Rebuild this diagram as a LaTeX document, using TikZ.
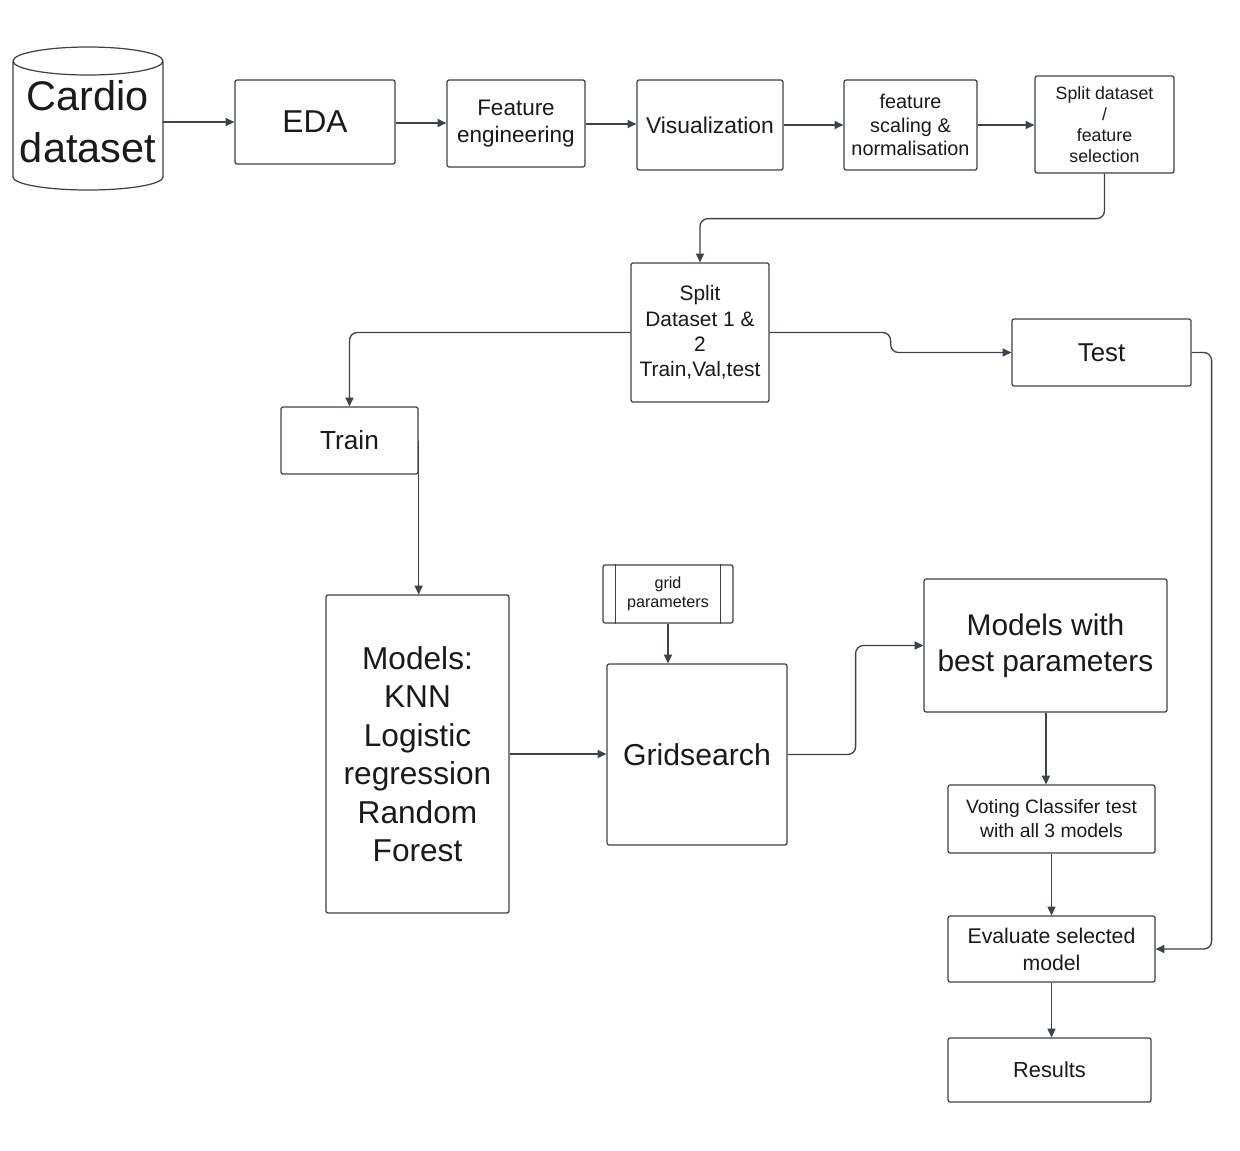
\documentclass[tikz,border=0pt]{standalone}
\usepackage{fontspec}
\setmainfont{Liberation Sans}
\usetikzlibrary{arrows.meta, positioning}
\definecolor{linegray}{HTML}{3D434B}
\definecolor{textdark}{HTML}{1A1A1A}
\newlength{\px}
\setlength{\px}{0.02cm}
\newcommand{\fs}[2]{\fontsize{#1}{#2}\selectfont}

\begin{document}
\begin{tikzpicture}[x=0.02cm, y=-0.02cm,
    box/.style={draw=linegray, line width=0.7pt, rounded corners=1.2pt, fill=white,
        text=textdark, align=center, inner sep=0pt},
    arr/.style={draw=linegray, line width=0.75pt, rounded corners=4.5pt,
        -{Triangle[length=5pt, width=4.6pt]}}]
\useasboundingbox[fill=white] (0,0) rectangle (1240,1150);

% cylinder for the data source
\draw[linegray, line width=0.7pt, fill=white] (13,62) -- (13,177) arc[start angle=180, end angle=0, x radius=75, y radius=13] -- (163,62);
\draw[linegray, line width=0.7pt, fill=white] (88,61) ellipse[x radius=75, y radius=14];
\node[align=center, text=textdark, minimum width=150\px, minimum height=143\px, inner sep=0pt,
    font=\fs{23.6pt}{29.5pt}] (cardio) at (88,122) {Cardio\\dataset};

% first row
\node[box, minimum width=160\px, minimum height=84\px, font=\fs{18pt}{21pt}] (eda) at (315,122) {EDA};
\node[box, minimum width=138\px, minimum height=87\px, font=\fs{12.8pt}{15.3pt}] (feat) at (516,123.5) {Feature\\engineering};
\node[box, minimum width=146\px, minimum height=90\px, font=\fs{13pt}{15pt}] (vis) at (710,125) {Visualization};
\node[box, minimum width=133\px, minimum height=90\px, font=\fs{11.3pt}{13.6pt}] (scale) at (910.5,125) {feature\\scaling \&\\normalisation};
\node[box, minimum width=139\px, minimum height=97\px, font=\fs{10.1pt}{12pt}] (fsel) at (1104.5,124.5) {Split dataset\\/\\feature\\selection};

% split
\node[box, minimum width=138\px, minimum height=139\px, font=\fs{11.9pt}{14.5pt}] (split) at (700,332.5) {Split\\Dataset 1 \&\\2\\Train,Val,test};
\node[box, minimum width=179\px, minimum height=67\px, font=\fs{14.7pt}{17pt}] (test) at (1101.5,352.5) {Test};
\node[box, minimum width=137\px, minimum height=67\px, font=\fs{14.9pt}{17pt}] (train) at (349.5,440.5) {Train};

% models and search
\node[box, minimum width=183\px, minimum height=318\px, font=\fs{18pt}{21.9pt}] (models) at (417.5,754) {Models:\\KNN\\Logistic\\regression\\Random\\Forest};
\node[box, minimum width=130\px, minimum height=58\px, font=\fs{9.2pt}{10.8pt}] (gp) at (668,594) {grid\\parameters};
\draw[linegray, line width=0.7pt] ([xshift=13\px]gp.north west) -- ([xshift=13\px]gp.south west);
\draw[linegray, line width=0.7pt] ([xshift=-13\px]gp.north east) -- ([xshift=-13\px]gp.south east);
\node[box, minimum width=180\px, minimum height=181\px, font=\fs{17.2pt}{20pt}] (gs) at (697,754.5) {Gridsearch};
\node[box, minimum width=243\px, minimum height=133\px, font=\fs{17pt}{20.4pt}] (best) at (1045.5,645.5) {Models with\\best parameters};

% final column
\node[box, minimum width=207\px, minimum height=68\px, font=\fs{11pt}{13.6pt}] (vote) at (1051.5,819) {Voting Classifer test\\with all 3 models};
\node[box, minimum width=207\px, minimum height=66\px, font=\fs{12.1pt}{15.3pt}] (eval) at (1051.5,949) {Evaluate selected\\model};
\node[box, minimum width=203\px, minimum height=64\px, font=\fs{12.4pt}{15pt}] (res) at (1049.5,1070) {Results};

% connectors
\draw[arr] (cardio.east) -- (cardio.east -| eda.west);
\draw[arr] ([yshift=-1\px]eda.east) -- ([yshift=-1\px]eda.east -| feat.west);
\draw[arr] ([yshift=-0.5\px]feat.east) -- ([yshift=-0.5\px]feat.east -| vis.west);
\draw[arr] (vis.east) -- (vis.east -| scale.west);
\draw[arr] (scale.east) -- (scale.east -| fsel.west);
\draw[arr] (fsel.south) -- ++(0,45) -| (split.north);
\draw[arr] (split.west) -| (train.north);
\draw[arr] (split.east) -- ++(121,0) |- (test.west);
\draw[arr] (train.east) -- (train.east |- models.north);
\draw[arr] (models.east) -- (models.east -| gs.west);
\draw[arr] (gp.south) -- (gp.south |- gs.north);
\draw[arr] (gs.east) -- ++(68,0) |- (best.west);
\draw[arr] ([xshift=0.5\px]best.south) -- ([xshift=0.5\px]best.south |- vote.north);
\draw[arr] (vote.south) -- (eval.north);
\draw[arr] (eval.south) -- (eval.south |- res.north);
\draw[arr] (test.east) -- ++(20,0) |- (eval.east);
\end{tikzpicture}
\end{document}
